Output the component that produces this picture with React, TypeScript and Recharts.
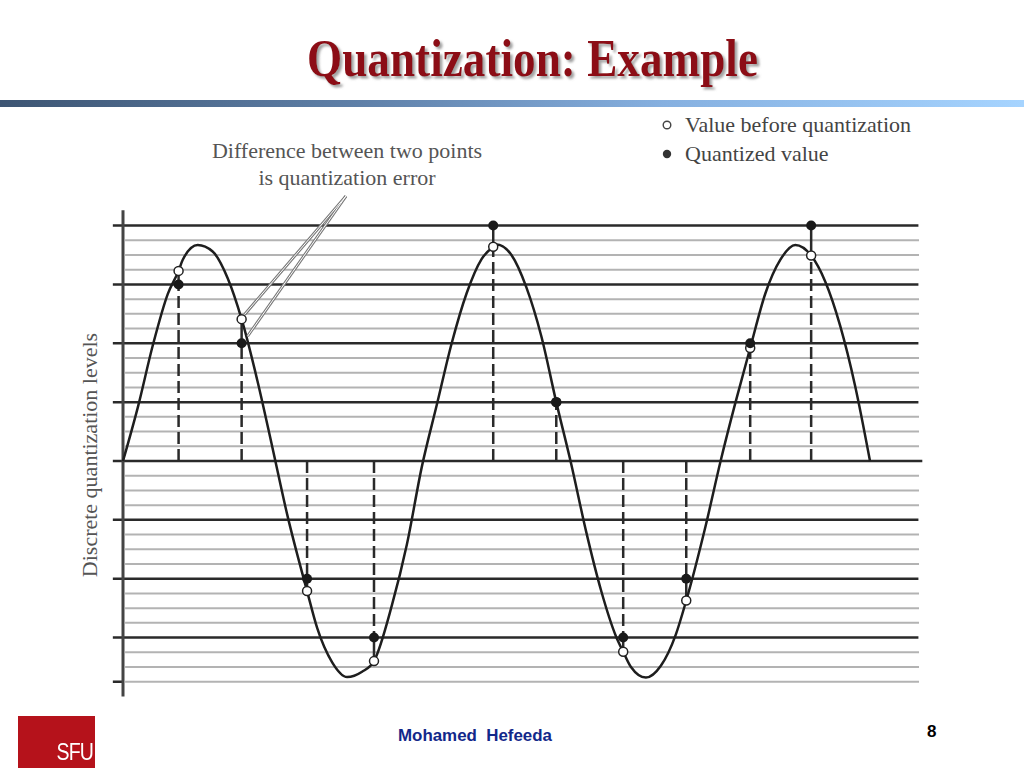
import React from 'react';
import { ComposedChart, Line, Scatter, XAxis, YAxis, ReferenceLine } from 'recharts';

// time runs 0..250, one period of the wave is 100 units
const curveT = [0, 5, 10, 15, 20, 25, 30, 35, 45, 50, 55, 65, 70, 75, 80, 90, 95, 100, 105, 110, 115, 120, 125, 130, 135, 140, 150, 155, 160, 165, 170, 175, 180, 185, 195, 200, 205, 215, 220, 225, 235, 240, 245, 250];
const curveV = [0, 0.92, 1.97, 2.84, 3.42, 3.67, 3.56, 3.11, 1.36, 0.23, -0.92, -2.84, -3.42, -3.67, -3.58, -2.45, -1.42, -0.1, 0.95, 2.0, 2.85, 3.43, 3.68, 3.5, 2.95, 2.12, -0.05, -1.2, -2.2, -2.98, -3.5, -3.68, -3.48, -2.95, -1.1, 0, 1.0, 2.85, 3.42, 3.67, 3.05, 2.3, 1.28, 0];

// sampling instants, value before quantization, quantized value
const sampleT = [18.6, 39.7, 61.6, 84.0, 123.9, 145.0, 167.4, 188.5, 209.9, 230.3];
const beforeVals = [3.23, 2.41, -2.21, -3.4, 3.64, 1.0, -3.24, -2.37, 1.92, 3.49];
const quantVals = [3, 2, -2, -3, 4, 1, -3, -2, 2, 4];

const majorLevels = [-3, -2, -1, 0, 1, 2, 3, 4];
const minorLevels = [-3.75, -3.5, -3.25, -2.75, -2.5, -2.25, -1.75, -1.5, -1.25, -0.75, -0.5, -0.25, 0.25, 0.5, 0.75, 1.25, 1.5, 1.75, 2.25, 2.5, 2.75, 3.25, 3.5, 3.75];

const TITLE = 'Quantization: Example';
const LEGEND_ITEMS = ['Value before quantization', 'Quantized value'];
const NOTE_LINES = ['Difference between two points', 'is quantization error'];
const Y_LABEL = 'Discrete quantization levels';
const NOTE_SAMPLE = 1; // the annotation points at the second sample

const curveData = [
  ...curveT.map((t, i) => ({ t, v: curveV[i] })),
  ...sampleT.map((t, i) => ({ t, v: beforeVals[i] })),
].sort((a, b) => a.t - b.t);

const beforeData = sampleT.map((t, i) => ({ t, before: beforeVals[i] }));
const quantData = sampleT.map((t, i) => ({ t, q: quantVals[i] }));

const serif = '"Liberation Serif", "Times New Roman", serif';
const sans = '"Liberation Sans", Arial, sans-serif';

const OpenDot = (props: any) => (
  <circle cx={props.cx} cy={props.cy} r={4.5} fill="#fff" stroke="#222" strokeWidth={1.5} />
);
const FilledDot = (props: any) => (
  <circle cx={props.cx} cy={props.cy} r={5} fill="#1a1a1a" />
);

export default function App() {
  const s = NOTE_SAMPLE;
  return (
    <div style={{ position: 'absolute', left: 0, top: 0, width: 1024, height: 768, background: '#fff', overflow: 'hidden' }}>
      {/* title */}
      <svg width={1024} height={100} style={{ position: 'absolute', left: 0, top: 0 }}>
        <defs>
          <filter id="tshadow" x="-5%" y="-20%" width="110%" height="140%">
            <feDropShadow dx={2.5} dy={2.5} stdDeviation={0.8} floodColor="#8a8a8a" floodOpacity={0.8} />
          </filter>
        </defs>
        <text x={532.5} y={76} textAnchor="middle" fontFamily={serif} fontWeight="bold" fontSize={52}
          textLength={451} lengthAdjust="spacingAndGlyphs" fill="#8c1116" filter="url(#tshadow)">{TITLE}</text>
      </svg>
      <div style={{ position: 'absolute', left: 0, top: 100, width: 1024, height: 7,
        background: 'linear-gradient(to right, #3d5573 0%, #5f80a8 35%, #86b0e0 65%, #a6d4ff 100%)' }} />

      {/* legend */}
      {LEGEND_ITEMS.map((label, i) => (
        <div key={label} style={{ position: 'absolute', left: 660, top: 112 + i * 29, height: 26, display: 'flex', alignItems: 'center', fontFamily: serif, fontSize: 22, color: '#444' }}>
          <svg width={14} height={14} style={{ marginRight: 11 }}>
            {i === 0
              ? <circle cx={7} cy={7} r={3.8} fill="#fff" stroke="#444" strokeWidth={1.4} />
              : <circle cx={7} cy={7} r={4.2} fill="#333" />}
          </svg>
          {label}
        </div>
      ))}

      {/* annotation text */}
      {NOTE_LINES.map((line, i) => (
        <div key={line} style={{ position: 'absolute', left: 147, width: 400, top: 138 + i * 27, textAlign: 'center', fontFamily: serif, fontSize: 22, color: '#555', lineHeight: '26px' }}>
          {line}
        </div>
      ))}

      {/* y label */}
      <div style={{ position: 'absolute', left: 90, top: 455, transform: 'translate(-50%, -50%) rotate(-90deg)', whiteSpace: 'nowrap', fontFamily: serif, fontSize: 22, color: '#555' }}>
        {Y_LABEL}
      </div>

      <div style={{ position: 'absolute', left: 0, top: 0 }}>
        <ComposedChart width={1024} height={768} data={curveData}
          margin={{ top: 190.24, bottom: 71.56, left: 111.05, right: 100.2 }}>
          <XAxis dataKey="t" type="number" domain={[-4, 268]} hide allowDataOverflow />
          <YAxis type="number" domain={[-4, 4.6]} hide width={0} allowDataOverflow />

          {minorLevels.map((y) => (
            <ReferenceLine key={`mn${y}`} ifOverflow="visible" stroke="#b3b3b3" strokeWidth={2}
              segment={[{ x: 0.7, y }, { x: 266.4, y }]} />
          ))}
          {majorLevels.map((y) => (
            <ReferenceLine key={`mj${y}`} ifOverflow="visible" stroke="#2a2a2a" strokeWidth={2.5}
              segment={[{ x: -3.4, y }, { x: y === 0 ? 267.5 : 266.2, y }]} />
          ))}
          <ReferenceLine ifOverflow="visible" stroke="#2a2a2a" strokeWidth={2.5}
            segment={[{ x: -3.4, y: -3.75 }, { x: 0, y: -3.75 }]} />
          <ReferenceLine ifOverflow="visible" stroke="#444" strokeWidth={3}
            segment={[{ x: 0, y: -4 }, { x: 0, y: 4.26 }]} />

          {/* dashed sample lines and error segments */}
          {sampleT.map((t, i) => {
            const b = beforeVals[i];
            const q = quantVals[i];
            const near = Math.abs(b) < Math.abs(q) ? b : q;
            return (
              <ReferenceLine key={`d${i}`} ifOverflow="visible" stroke="#2a2a2a" strokeWidth={2.5} strokeDasharray="12 5"
                segment={[{ x: t, y: 0 }, { x: t, y: near }]} />
            );
          })}
          {sampleT.map((t, i) => (
            <ReferenceLine key={`e${i}`} ifOverflow="visible" stroke="#2a2a2a" strokeWidth={2.5}
              segment={[{ x: t, y: beforeVals[i] }, { x: t, y: quantVals[i] }]} />
          ))}

          <Line dataKey="v" type="monotone" stroke="#1e1e1e" strokeWidth={2.5} dot={false} isAnimationActive={false} />

          {/* pointer lines of the annotation */}
          {[beforeVals[s] + 0.08, quantVals[s] + 0.12].map((y, k) => (
            <ReferenceLine key={`pa${k}`} ifOverflow="visible" stroke="#7a7a7a" strokeWidth={3}
              segment={[{ x: 74.6, y: 4.5 }, { x: sampleT[s] + 1 + k, y }]} />
          ))}
          {[beforeVals[s] + 0.08, quantVals[s] + 0.12].map((y, k) => (
            <ReferenceLine key={`pb${k}`} ifOverflow="visible" stroke="#fff" strokeWidth={1}
              segment={[{ x: 74.6, y: 4.5 }, { x: sampleT[s] + 1 + k, y }]} />
          ))}

          <Scatter data={beforeData} dataKey="before" shape={OpenDot} isAnimationActive={false} />
          <Scatter data={quantData} dataKey="q" shape={FilledDot} isAnimationActive={false} />
        </ComposedChart>
      </div>

      {/* footer */}
      <div style={{ position: 'absolute', left: 18, top: 716, width: 77, height: 52, background: '#b5121b' }}>
        <div style={{ position: 'absolute', right: 2, bottom: 2, color: '#fff', fontFamily: sans, fontSize: 23, letterSpacing: -1, transform: 'scaleX(0.85)', transformOrigin: 'right bottom' }}>SFU</div>
      </div>
      <svg width={300} height={40} style={{ position: 'absolute', left: 360, top: 718 }}>
        <text x={38} y={23} fontFamily={sans} fontWeight="bold" fontSize={17} fill="#12288a"
          textLength={154} lengthAdjust="spacingAndGlyphs" xmlSpace="preserve">{'Mohamed  Hefeeda'}</text>
      </svg>
      <div style={{ position: 'absolute', left: 927, top: 722, fontFamily: sans, fontSize: 17, fontWeight: 'bold', color: '#000' }}>
        8
      </div>
    </div>
  );
}
